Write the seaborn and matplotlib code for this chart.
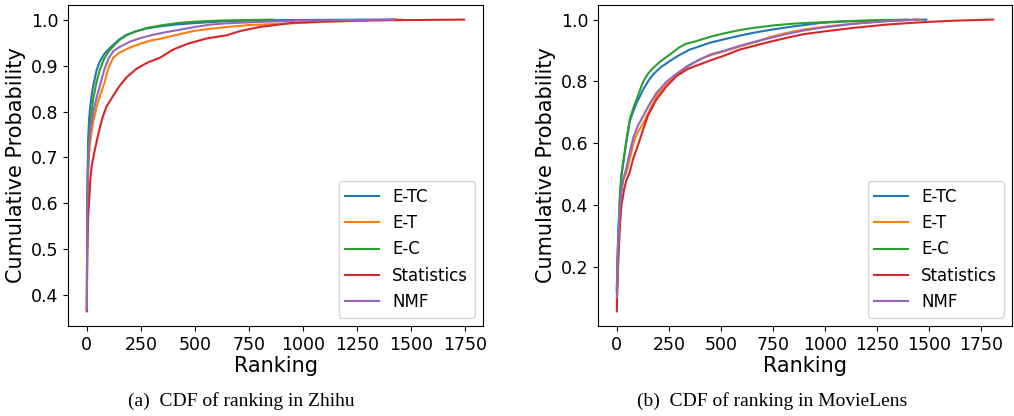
import matplotlib
matplotlib.use("Agg")
import matplotlib.pyplot as plt
import seaborn as sns
import pandas as pd

methods = ['E-TC', 'E-T', 'E-C', 'Statistics', 'NMF']
colors = ['#1f77b4', '#ff7f0e', '#2ca02c', '#d62728', '#9467bd']

# Zhihu (left panel): ranking vs cumulative probability
zh_etc_x = [0, 1, 3, 6, 10, 14, 22, 29, 45, 60, 80, 100, 122, 150, 184, 230, 280, 350, 430, 520, 620, 750, 900, 1100, 1300, 1430]
zh_etc_y = [0.37, 0.52, 0.66, 0.74, 0.78, 0.804, 0.835, 0.855, 0.89, 0.909, 0.925, 0.935, 0.945, 0.957, 0.967, 0.975, 0.981, 0.986, 0.99, 0.993, 0.996, 0.998, 0.999, 0.9995, 0.9998, 1.0]
zh_et_x = [0, 1, 3, 8, 14, 22, 29, 45, 60, 80, 100, 122, 150, 199, 250, 300, 338, 400, 491, 570, 648, 750, 850, 954, 1100, 1300, 1458]
zh_et_y = [0.37, 0.49, 0.6, 0.69, 0.73, 0.755, 0.776, 0.81, 0.833, 0.86, 0.895, 0.917, 0.928, 0.939, 0.948, 0.955, 0.958, 0.965, 0.975, 0.98, 0.984, 0.988, 0.99, 0.992, 0.995, 0.998, 1.0]
zh_ec_x = [0, 1, 3, 7, 14, 22, 29, 45, 60, 80, 100, 122, 150, 184, 230, 280, 350, 430, 520, 620, 750, 860]
zh_ec_y = [0.37, 0.5, 0.62, 0.72, 0.765, 0.8, 0.826, 0.865, 0.891, 0.915, 0.93, 0.942, 0.955, 0.966, 0.975, 0.982, 0.988, 0.993, 0.996, 0.998, 0.999, 1.0]
zh_st_x = [0, 1, 3, 6, 11, 16, 22, 30, 37, 50, 60, 74, 90, 120, 150, 185, 230, 278, 338, 400, 470, 555, 648, 708, 800, 954, 1100, 1264, 1500, 1745]
zh_st_y = [0.365, 0.45, 0.52, 0.57, 0.61, 0.65, 0.68, 0.7, 0.717, 0.745, 0.765, 0.789, 0.81, 0.833, 0.855, 0.875, 0.893, 0.906, 0.917, 0.935, 0.948, 0.959, 0.966, 0.975, 0.984, 0.993, 0.996, 0.998, 0.999, 1.0]
zh_nmf_x = [0, 1, 3, 8, 14, 20, 29, 45, 60, 80, 100, 122, 150, 199, 250, 306, 370, 430, 500, 570, 650, 800, 1000, 1200, 1420]
zh_nmf_y = [0.37, 0.5, 0.62, 0.71, 0.75, 0.77, 0.797, 0.83, 0.855, 0.89, 0.915, 0.931, 0.94, 0.952, 0.96, 0.967, 0.973, 0.978, 0.984, 0.989, 0.992, 0.995, 0.998, 0.999, 1.0]

# MovieLens (right panel)
ml_etc_x = [0, 2, 6, 14, 22, 34, 46, 62, 80, 95, 127, 150, 175, 210, 255, 300, 351, 400, 447, 520, 591, 655, 750, 850, 976, 1100, 1300, 1489]
ml_etc_y = [0.12, 0.19, 0.28, 0.41, 0.49, 0.55, 0.605, 0.67, 0.705, 0.73, 0.774, 0.8, 0.823, 0.845, 0.866, 0.885, 0.903, 0.914, 0.925, 0.937, 0.948, 0.957, 0.968, 0.978, 0.989, 0.994, 0.998, 1.0]
ml_et_x = [0, 2, 6, 14, 22, 30, 46, 62, 80, 100, 127, 160, 191, 240, 287, 340, 399, 450, 520, 591, 655, 735, 816, 900, 1000, 1136, 1300, 1457]
ml_et_y = [0.08, 0.14, 0.24, 0.398, 0.45, 0.48, 0.506, 0.548, 0.6, 0.635, 0.665, 0.71, 0.753, 0.79, 0.82, 0.848, 0.871, 0.885, 0.898, 0.913, 0.925, 0.943, 0.957, 0.968, 0.977, 0.987, 0.995, 1.0]
ml_ec_x = [0, 2, 6, 14, 22, 34, 46, 62, 80, 95, 127, 150, 175, 210, 255, 300, 330, 380, 447, 520, 591, 655, 750, 850, 976, 1100, 1250, 1400]
ml_ec_y = [0.13, 0.2, 0.29, 0.42, 0.5, 0.555, 0.61, 0.677, 0.715, 0.742, 0.8, 0.825, 0.844, 0.865, 0.887, 0.91, 0.921, 0.93, 0.944, 0.956, 0.966, 0.973, 0.981, 0.987, 0.991, 0.995, 0.998, 1.0]
ml_st_x = [0, 2, 6, 14, 22, 35, 46, 62, 78, 100, 127, 150, 191, 240, 287, 340, 399, 450, 511, 591, 655, 735, 816, 900, 1000, 1136, 1300, 1457, 1600, 1810]
ml_st_y = [0.056, 0.12, 0.2, 0.32, 0.398, 0.45, 0.48, 0.506, 0.548, 0.59, 0.645, 0.69, 0.742, 0.785, 0.817, 0.84, 0.855, 0.868, 0.882, 0.903, 0.914, 0.928, 0.941, 0.953, 0.962, 0.973, 0.984, 0.991, 0.996, 1.0]
ml_nmf_x = [0, 2, 6, 14, 22, 30, 46, 62, 80, 100, 127, 160, 191, 240, 287, 340, 399, 450, 520, 591, 655, 735, 816, 900, 1000, 1136, 1300, 1448]
ml_nmf_y = [0.1, 0.16, 0.26, 0.38, 0.44, 0.48, 0.52, 0.57, 0.62, 0.655, 0.688, 0.73, 0.763, 0.8, 0.825, 0.85, 0.871, 0.887, 0.9, 0.915, 0.927, 0.94, 0.953, 0.965, 0.975, 0.986, 0.995, 1.0]

zhihu = [(zh_etc_x, zh_etc_y), (zh_et_x, zh_et_y), (zh_ec_x, zh_ec_y), (zh_st_x, zh_st_y), (zh_nmf_x, zh_nmf_y)]
movielens = [(ml_etc_x, ml_etc_y), (ml_et_x, ml_et_y), (ml_ec_x, ml_ec_y), (ml_st_x, ml_st_y), (ml_nmf_x, ml_nmf_y)]

fig = plt.figure(figsize=(10.14, 4.16), dpi=100)
ax1 = fig.add_axes([68 / 1014, 90 / 416, 415 / 1014, 321 / 416])
ax2 = fig.add_axes([598 / 1014, 90 / 416, 414 / 1014, 321 / 416])

for ax, series in [(ax1, zhihu), (ax2, movielens)]:
    for name, color, (xs, ys) in zip(methods, colors, series):
        df = pd.DataFrame({'Ranking': xs, 'Cumulative Probability': ys})
        sns.lineplot(data=df, x='Ranking', y='Cumulative Probability', ax=ax,
                     color=color, label=name, estimator=None, linewidth=1.5)
    ax.set_xlabel('Ranking', fontsize=15, labelpad=2)
    ax.set_ylabel('Cumulative Probability', fontsize=15, labelpad=3)
    ax.tick_params(labelsize=12.5)
    ax.set_xticks([0, 250, 500, 750, 1000, 1250, 1500, 1750])
    ax.legend(loc='lower right', fontsize=12)

ax1.set_yticks([0.4, 0.5, 0.6, 0.7, 0.8, 0.9, 1.0])
ax2.set_yticks([0.2, 0.4, 0.6, 0.8, 1.0])

cap_font = ['Liberation Serif', 'DejaVu Serif']
fig.text(128 / 1014, 1 - 401 / 416, '(a)  CDF of ranking in Zhihu', ha='left', va='center',
         fontsize=14, family=cap_font)
fig.text(637 / 1014, 1 - 401 / 416, '(b)  CDF of ranking in MovieLens', ha='left', va='center',
         fontsize=14, family=cap_font)

fig.savefig('out.png', dpi=100)
